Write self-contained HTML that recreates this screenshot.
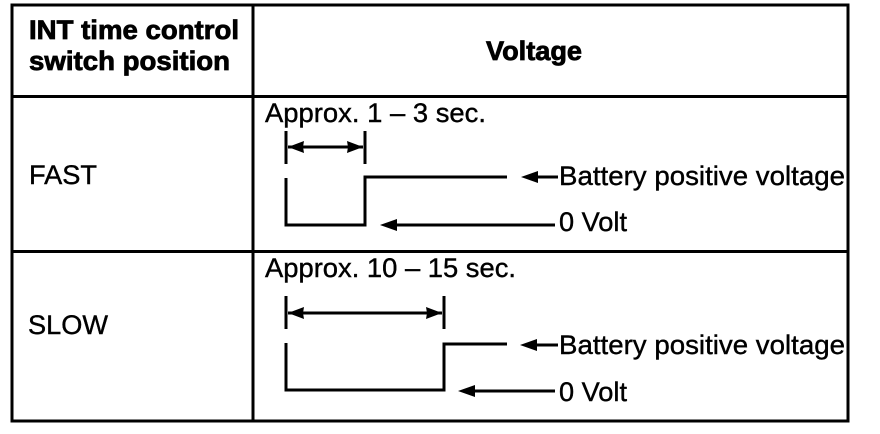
<!DOCTYPE html>
<html><head><meta charset="utf-8"><style>html,body{margin:0;padding:0;background:#fff}svg{display:block}text{font-family:"Liberation Sans",sans-serif;font-size:27px;fill:#000;stroke:#000;stroke-width:.4px}.b{font-weight:bold;font-size:26.500px;stroke-width:.8px}</style></head>
<body><svg width="880" height="434" viewBox="0 0 880 434" xmlns="http://www.w3.org/2000/svg">
<g fill="none" stroke="#000">
<rect x="12" y="5" width="836" height="416" stroke-width="3"/>
<path d="M253 5V421" stroke-width="3"/>
<path d="M12 96.500H848M12 251.500H848" stroke-width="3"/>
<g stroke-width="3">
<path d="M286 131V164M365 131V164M286 178V225H365V177H507"/>
<path d="M286 296V329M444 296V329M286 343V390H444V344H507"/>
</g>
<g stroke-width="3">
<path d="M288 147H363M288 313H442M535 177H558M535 345H558M395 225H555M472 391H555"/>
</g>
</g>
<g fill="#000">
<path d="M288 147l16-6-1 6 1 6zM363 147l-16-6 1 6-1 6zM288 313l16-6-1 6 1 6zM442 313l-16-6 1 6-1 6z"/>
<path d="M521 177l17-6v12zM520 345l17-6v12zM380 225l17-6v12zM458 391l17-6v12z"/>
</g>
<text class="b" x="29" y="39" textLength="210" lengthAdjust="spacingAndGlyphs">INT time control</text>
<text class="b" x="29" y="70" textLength="201" lengthAdjust="spacingAndGlyphs">switch position</text>
<text class="b" x="486" y="60" textLength="96" lengthAdjust="spacingAndGlyphs">Voltage</text>
<text x="29" y="184" textLength="68" lengthAdjust="spacingAndGlyphs">FAST</text>
<text x="28" y="334" textLength="80" lengthAdjust="spacingAndGlyphs">SLOW</text>
<text x="265" y="122" textLength="221" lengthAdjust="spacingAndGlyphs">Approx. 1 – 3 sec.</text>
<text x="265" y="277" textLength="251" lengthAdjust="spacingAndGlyphs">Approx. 10 – 15 sec.</text>
<text x="559" y="185" textLength="286" lengthAdjust="spacingAndGlyphs">Battery positive voltage</text>
<text x="559" y="354" textLength="286" lengthAdjust="spacingAndGlyphs">Battery positive voltage</text>
<text x="559" y="231" textLength="68" lengthAdjust="spacingAndGlyphs">0 Volt</text>
<text x="559" y="401" textLength="68" lengthAdjust="spacingAndGlyphs">0 Volt</text>
</svg></body></html>
